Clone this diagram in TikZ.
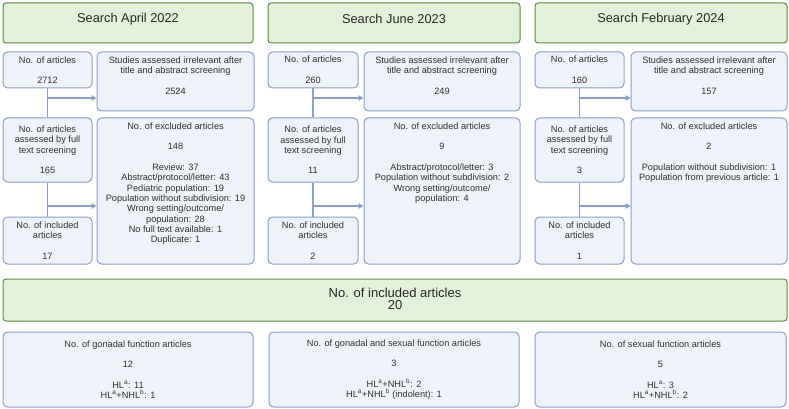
\documentclass[tikz,border=0pt]{standalone}
\usepackage{fontspec}
\setmainfont{Liberation Sans}
\usetikzlibrary{arrows.meta}
\definecolor{hdrfill}{HTML}{E2F1D9}
\definecolor{hdrline}{HTML}{5A8A3A}
\definecolor{bxfill}{HTML}{EEF2F9}
\definecolor{bxline}{HTML}{8B9FCB}
\definecolor{txtc}{HTML}{303030}
\tikzset{
  hdr/.style={draw=hdrline, fill=hdrfill, rounded corners=3pt, line width=1pt, inner sep=0pt},
  bx/.style={draw=bxline, fill=bxfill, rounded corners=4.5pt, line width=1pt, inner sep=0pt,
    text=txtc, font=\fontsize{9.2}{10.3}\selectfont, align=center},
  txt/.style={text=txtc, font=\fontsize{9.2}{10.3}\selectfont, align=center, inner sep=0pt},
  hdrtxt/.style={text=black!85, font=\fontsize{12.8}{12}\selectfont, align=center, inner sep=0pt},
  conn/.style={draw=bxline, line width=1.2pt},
  arr/.style={conn, -{Triangle[length=5pt,width=5.5pt]}},
}
\newcommand{\sa}{\textsuperscript{a}}
\newcommand{\sbb}{\textsuperscript{b}}
\begin{document}
\begin{tikzpicture}[x=1pt,y=-1pt]
\useasboundingbox[fill=white] (0,0) rectangle (789,409);

% ---------- headers ----------
\node[hdr, minimum width=250, minimum height=40] (h1) at (128,23) {};
\node[hdrtxt] (h1t) at (128,19) {Search April 2022};
\node[hdr, minimum width=252, minimum height=40] (h2) at (394,23) {};
\node[hdrtxt] (h2t) at (394,19) {Search June 2023};
\node[hdr, minimum width=252, minimum height=40] (h3) at (661,23) {};
\node[hdrtxt] (h3t) at (661,19) {Search February 2024};

% ---------- column 1 ----------
\node[bx, minimum width=89, minimum height=36] (a1) at (47.5,70) {No. of articles\\[10.3pt]2712};
\node[bx, minimum width=157, minimum height=59] (s1) at (175.5,81.5) {};
\node[txt, anchor=north] (s1t) at ([yshift=-5pt]s1.north) {Studies assessed irrelevant after\\title and abstract screening\\[10.3pt]2524};
\node[bx, minimum width=89, minimum height=64] (f1) at (47.5,150) {No. of articles\\assessed by full\\text screening\\[10.3pt]165};
\node[bx, minimum width=157, minimum height=146] (e1) at (175.5,191) {};
\node[txt, anchor=north] (e1t) at ([yshift=-5pt]e1.north) {No. of excluded articles\\[10.3pt]148\\[10.3pt]Review: 37\\Abstract/protocol/letter: 43\\Pediatric population: 19\\Population without subdivision: 19\\Wrong setting/outcome/\\population: 28\\No full text available: 1\\Duplicate: 1};
\node[bx, minimum width=89, minimum height=47] (i1) at (47.5,240.5) {No. of included\\articles\\[10.3pt]17};
\draw[conn] (a1) -- (f1);
\draw[conn] (f1) -- (i1);
\coordinate (p1) at (47.5,98);
\coordinate (q1) at (47.5,206);
\draw[arr] (p1) -- (p1 -| s1.west);
\draw[arr] (q1) -- (q1 -| e1.west);

% ---------- column 2 ----------
\node[bx, minimum width=90, minimum height=36] (a2) at (313,70) {No. of articles\\[10.3pt]260};
\node[bx, minimum width=156, minimum height=59] (s2) at (442,81.5) {};
\node[txt, anchor=north] (s2t) at ([yshift=-5pt]s2.north) {Studies assessed irrelevant after\\title and abstract screening\\[10.3pt]249};
\node[bx, minimum width=90, minimum height=64] (f2) at (313,150) {No. of articles\\assessed by full\\text screening\\[10.3pt]11};
\node[bx, minimum width=156, minimum height=146] (e2) at (442,191) {};
\node[txt, anchor=north] (e2t) at ([yshift=-5pt]e2.north) {No. of excluded articles\\[10.3pt]9\\[10.3pt]Abstract/protocol/letter: 3\\Population without subdivision: 2\\Wrong setting/outcome/\\population: 4};
\node[bx, minimum width=90, minimum height=47] (i2) at (313,240.5) {No. of included\\articles\\[10.3pt]2};
\draw[conn] (a2) -- (f2);
\draw[conn] (f2) -- (i2);
\coordinate (p2) at (313,98);
\coordinate (q2) at (313,206);
\draw[arr] (p2) -- (p2 -| s2.west);
\draw[arr] (q2) -- (q2 -| e2.west);

% ---------- column 3 ----------
\node[bx, minimum width=89, minimum height=36] (a3) at (579.5,70) {No. of articles\\[10.3pt]160};
\node[bx, minimum width=156, minimum height=59] (s3) at (709,81.5) {};
\node[txt, anchor=north] (s3t) at ([yshift=-5pt]s3.north) {Studies assessed irrelevant after\\title and abstract screening\\[10.3pt]157};
\node[bx, minimum width=89, minimum height=64] (f3) at (579.5,150) {No. of articles\\assessed by full\\text screening\\[10.3pt]3};
\node[bx, minimum width=156, minimum height=146] (e3) at (709,191) {};
\node[txt, anchor=north] (e3t) at ([yshift=-5pt]e3.north) {No. of excluded articles\\[10.3pt]2\\[10.3pt]Population without subdivision: 1\\Population from previous article: 1};
\node[bx, minimum width=89, minimum height=47] (i3) at (579.5,240.5) {No. of included\\articles\\[10.3pt]1};
\draw[conn] (a3) -- (f3);
\draw[conn] (f3) -- (i3);
\coordinate (p3) at (579.5,98);
\coordinate (q3) at (579.5,206);
\draw[arr] (p3) -- (p3 -| s3.west);
\draw[arr] (q3) -- (q3 -| e3.west);

% ---------- total ----------
\node[hdr, minimum width=784, minimum height=42] (tot) at (395,300) {};
\node[hdrtxt, font=\fontsize{13}{11.7}\selectfont] (tott) at (395,299) {No. of included articles\\20};

% ---------- bottom ----------
\node[bx, minimum width=250, minimum height=75] (b1) at (128,369.5) {No. of gonadal function articles\\[10.3pt]12\\[10.3pt]HL\sa: 11\\HL\sa+NHL\sbb: 1};
\node[bx, minimum width=250, minimum height=75] (b2) at (394,369.5) {No. of gonadal and sexual function articles\\[10.3pt]3\\[10.3pt]HL\sa+NHL\sbb: 2\\HL\sa+NHL\sbb\ (indolent): 1};
\node[bx, minimum width=251, minimum height=75] (b3) at (660.5,369.5) {No. of sexual function articles\\[10.3pt]5\\[10.3pt]HL\sa: 3\\HL\sa+NHL\sbb: 2};
\end{tikzpicture}
\end{document}
